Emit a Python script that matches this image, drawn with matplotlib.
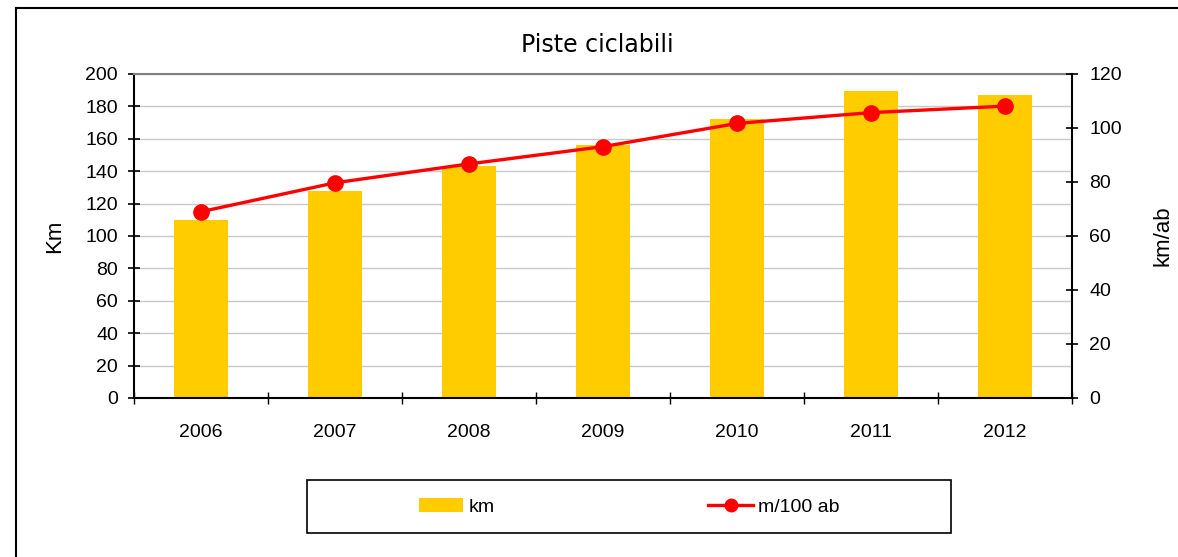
import matplotlib
matplotlib.use("Agg")
import matplotlib.pyplot as plt
from matplotlib.lines import Line2D
from matplotlib.patches import Rectangle, Patch
import numpy as np

years = ["2006", "2007", "2008", "2009", "2010", "2011", "2012"]
km = [110, 128, 143, 156, 172, 189.5, 187]
m_per_100ab = [69, 79.7, 86.7, 93.1, 101.7, 105.7, 108.1]

title = "Piste ciclabili"
left_label = "Km"
right_label = "km/ab"
legend_labels = ["km", "m/100 ab"]

plt.rcParams['font.family'] = ['Liberation Sans', 'DejaVu Sans']

W, H = 1178, 557
fig = plt.figure(figsize=(W / 100, H / 100), dpi=100)
fig.patch.set_facecolor("white")

def fx(px):
    return px / W

def fy(py):
    return 1 - py / H

ax = fig.add_axes([fx(134), fy(398), fx(1072) - fx(134), fy(74) - fy(398)])
x = np.arange(len(years))
ax.bar(x, km, width=0.41, color="#FFCC00", zorder=2)
ax.set_xlim(-0.5, len(years) - 0.5)
ax.set_ylim(0, 200)
ax.set_yticks(np.arange(0, 201, 20))
ax.yaxis.grid(True, color="#c8c8c8", linewidth=1.0, zorder=0)
ax.set_axisbelow(True)
ax.set_xticks(x)
ax.set_xticklabels(years)
ax.set_xticks(np.arange(-0.5, len(years), 1.0), minor=True)
ax.tick_params(axis="x", which="major", length=0, pad=19, labelsize=14)
ax.tick_params(axis="x", which="minor", length=9, width=1, direction="inout", color="black")
ax.tick_params(axis="y", which="major", length=9, width=1.2, direction="inout", pad=7, labelsize=14)
for s in ["left", "bottom"]:
    ax.spines[s].set_color("black")
    ax.spines[s].set_linewidth(1.5)
ax.spines["top"].set_color("#808080")
ax.spines["top"].set_linewidth(1.5)
ax.spines["right"].set_visible(False)
ax.set_ylabel(left_label, fontsize=16)
ax.yaxis.set_label_coords((65 - 134) / 938, 0.5)

ax2 = ax.twinx()
ax2.plot(x, m_per_100ab, color="#FF0000", linewidth=2.4, marker="o", markersize=11, zorder=3)
ax2.set_ylim(0, 120)
ax2.set_yticks(np.arange(0, 121, 20))
ax2.tick_params(axis="y", which="major", length=9, width=1.2, direction="inout", pad=8, labelsize=14)
ax2.spines["right"].set_color("black")
ax2.spines["right"].set_linewidth(1.5)
for s in ["left", "top", "bottom"]:
    ax2.spines[s].set_visible(False)
ax2.set_ylabel(right_label, fontsize=16)
ax2.yaxis.set_label_coords((1152 - 134) / 938, 0.5)

fig.text(fx(597), fy(45), title, ha="center", va="center", fontsize=17, family="DejaVu Sans")

# legend frame
fig.patches.append(Rectangle((fx(307), fy(533)), fx(951) - fx(307), fy(480) - fy(533),
                             transform=fig.transFigure, facecolor="white",
                             edgecolor="black", linewidth=1.2, zorder=1))
handles = [Patch(facecolor="#FFCC00", edgecolor="none"),
           Line2D([0], [0], color="#FF0000", linewidth=2.4, marker="o", markersize=9)]
leg = fig.legend(handles, legend_labels, loc="center", bbox_to_anchor=(fx(629), fy(507)),
                 ncol=2, frameon=False, fontsize=14, handlelength=2.3, handleheight=0.75,
                 handletextpad=0.25, columnspacing=11.0)

# outer chart border (left and top visible)
fig.lines.append(Line2D([fx(16), fx(16)], [0, fy(8)], transform=fig.transFigure,
                        color="black", linewidth=1.5))
fig.lines.append(Line2D([fx(16), 1], [fy(8), fy(8)], transform=fig.transFigure,
                        color="black", linewidth=1.5))

fig.savefig("out.png", dpi=100)
